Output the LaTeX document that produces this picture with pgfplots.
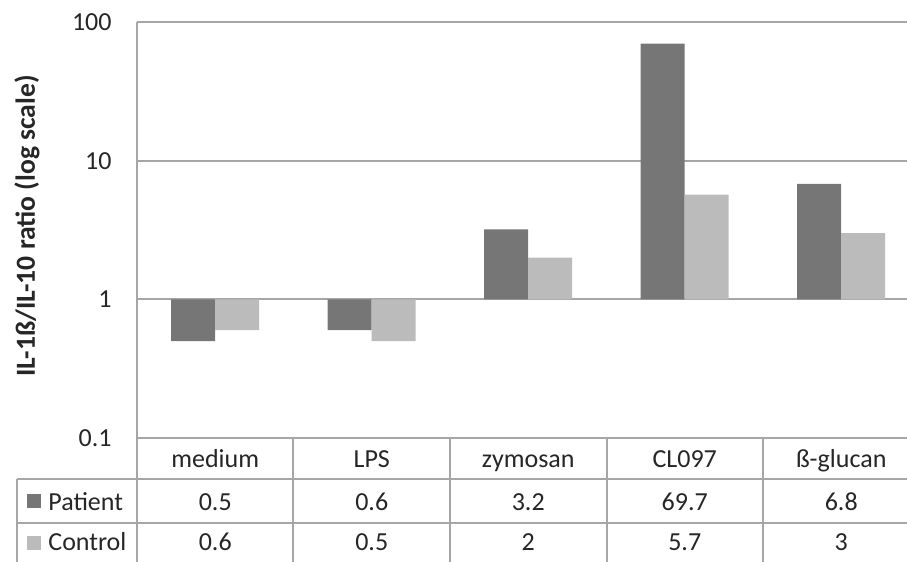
\documentclass[border=0pt]{standalone}
\usepackage{fontspec}
\setmainfont{Carlito}
\usepackage{pgfplots}
\pgfplotsset{compat=1.18}

\definecolor{patient}{HTML}{767676}
\definecolor{control}{HTML}{BBBBBB}
\definecolor{gridc}{HTML}{A6A6A6}

\begin{document}
\begin{tikzpicture}[x=1pt,y=1pt]
\fontsize{13}{15}\selectfont
\begin{axis}[
  at={(0,0)}, anchor=south west,
  width=391.25pt, height=208pt, scale only axis,
  ymode=log, log origin=0,
  ymin=0.1, ymax=100,
  xmin=-0.5, xmax=4.5,
  ybar=0pt, bar width=22pt,
  ytick={0.1,1,10,100}, yticklabels={0.1,1,10,100},
  yminorticks=false,
  xtick={0,1,2,3,4},
  xticklabels={medium,LPS,zymosan,CL097,ß-glucan},
  major tick length=0pt,
  ymajorgrids, grid style={gridc, line width=1pt},
  axis line style={draw=none},
  yticklabel style={inner sep=0pt, anchor=east, xshift=-12.5pt},
  xticklabel style={inner sep=0pt, anchor=base, yshift=-14.8pt},
  ticklabel style={font=\fontsize{13}{15}\selectfont, text=black!85},
  clip=false,
]
  % Patient
  \addplot[fill=patient, draw=none] coordinates {(0,0.5) (1,0.6) (2,3.2) (3,69.7) (4,6.8)};
  % Control
  \addplot[fill=control, draw=none] coordinates {(0,0.6) (1,0.5) (2,2) (3,5.7) (4,3)};
\end{axis}

% data table under the plot
\begin{scope}[gridc, line width=1pt]
  \draw (0,208) -- (0,-62);
  \foreach \k in {1,...,4} \draw (78.25*\k,0) -- (78.25*\k,-62);
  \draw (-60,-20.5) -- (400,-20.5);
  \draw (-60,-42.5) -- (400,-42.5);
  \draw (-60,-20.5) -- (-60,-62);
\end{scope}

\fill[patient] (-54.75,-35) rectangle ++(7,7);
\fill[control] (-54.75,-56) rectangle ++(7,7);
\begin{scope}[every node/.style={inner sep=0pt, anchor=base, text=black!85}]
  \node[anchor=base west] at (-44.5,-36.5) {Patient};
  \node[anchor=base west] at (-44.5,-56.5) {Control};
  \foreach \v [count=\i from 0] in {0.5,0.6,3.2,69.7,6.8}
    \node at (39.125+78.25*\i,-36.5) {\v};
  \foreach \v [count=\i from 0] in {0.6,0.5,2,5.7,3}
    \node at (39.125+78.25*\i,-56.5) {\v};
\end{scope}

\node[rotate=90, font=\fontsize{13.8}{15}\selectfont\bfseries, text=black!85]
  at (-55,106) {IL-1ß/IL-10 ratio (log scale)};

\pgfresetboundingbox
\useasboundingbox (-68.5,-62) rectangle (385,219);
\end{tikzpicture}
\end{document}
